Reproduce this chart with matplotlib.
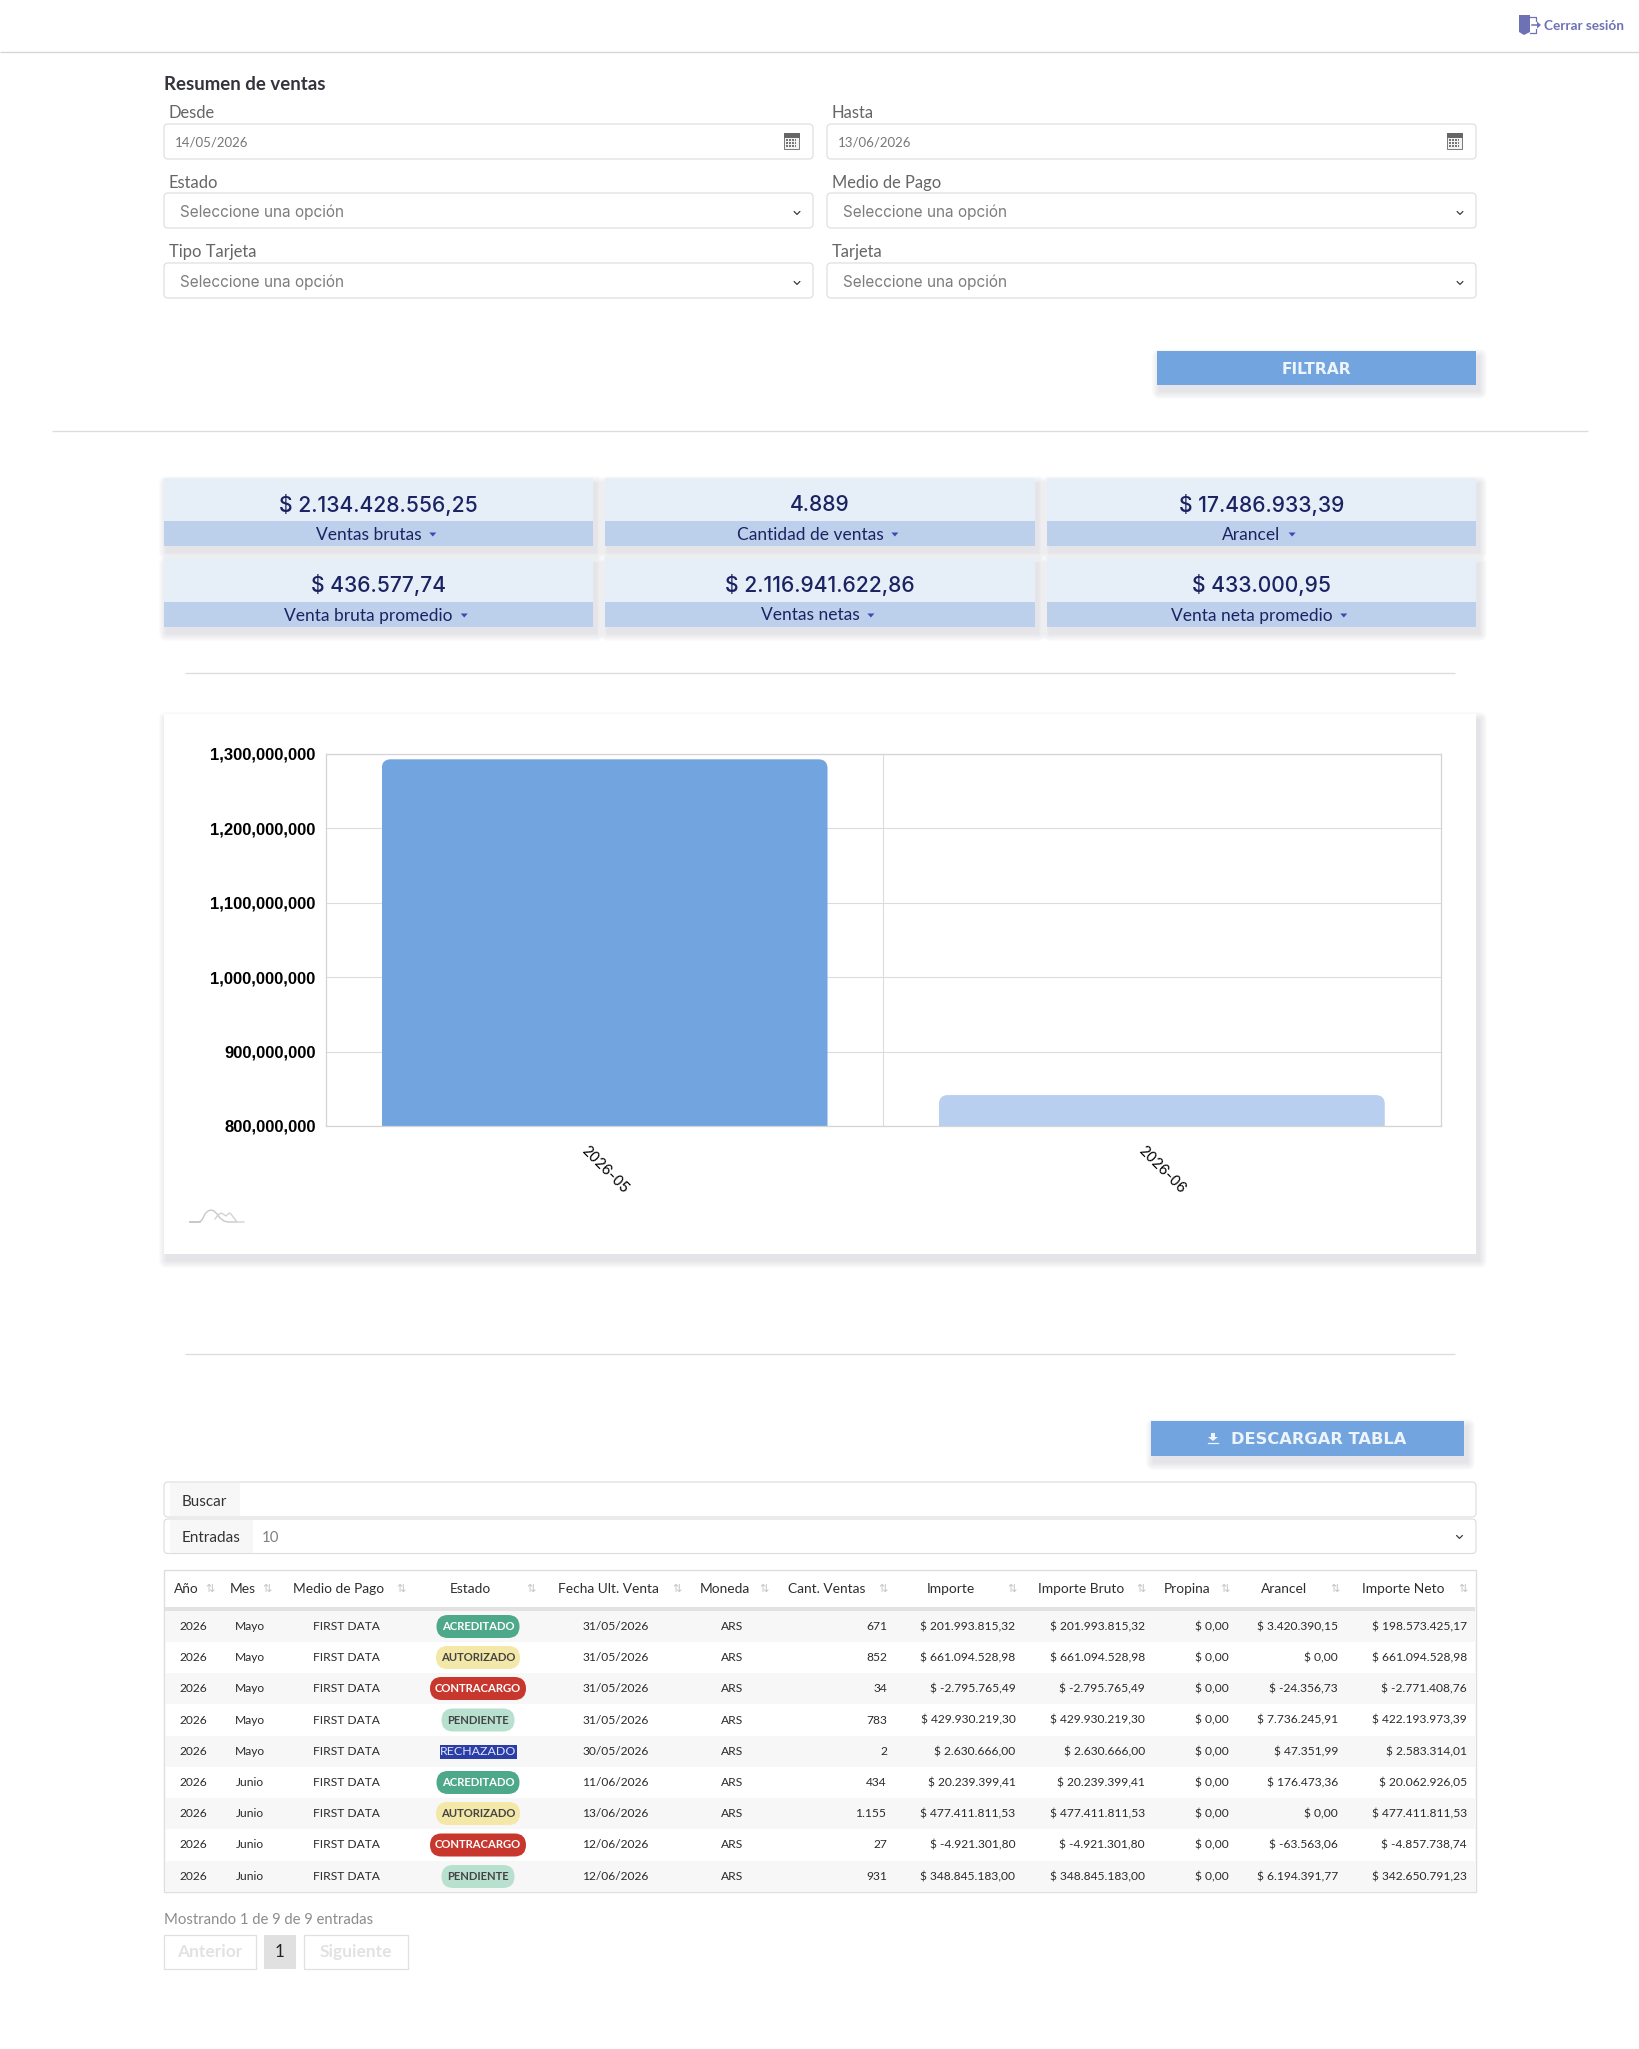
import matplotlib
matplotlib.use('Agg')
import matplotlib.pyplot as plt
from matplotlib.patches import FancyBboxPatch, Rectangle, Polygon

# chart values
months = ['2026-05', '2026-06']
month_totals = [1292853000, 841574000]
y_ticks = [800000000, 900000000, 1000000000, 1100000000, 1200000000, 1300000000]

# summary cards
card_values = ['$ 2.134.428.556,25', '4.889', '$ 17.486.933,39',
               '$ 436.577,74', '$ 2.116.941.622,86', '$ 433.000,95']
card_labels = ['Ventas brutas', 'Cantidad de ventas', 'Arancel',
               'Venta bruta promedio', 'Ventas netas', 'Venta neta promedio']

# table columns
headers = ['Año', 'Mes', 'Medio de Pago', 'Estado', 'Fecha Ult. Venta', 'Moneda',
           'Cant. Ventas', 'Importe', 'Importe Bruto', 'Propina', 'Arancel', 'Importe Neto']
anio = ['2026'] * 9
mes = ['Mayo'] * 5 + ['Junio'] * 4
medio = ['FIRST DATA'] * 9
estado = ['ACREDITADO', 'AUTORIZADO', 'CONTRACARGO', 'PENDIENTE', 'RECHAZADO',
          'ACREDITADO', 'AUTORIZADO', 'CONTRACARGO', 'PENDIENTE']
fecha = ['31/05/2026', '31/05/2026', '31/05/2026', '31/05/2026', '30/05/2026',
         '11/06/2026', '13/06/2026', '12/06/2026', '12/06/2026']
moneda = ['ARS'] * 9
cant = ['671', '852', '34', '783', '2', '434', '1.155', '27', '931']
importe = ['$ 201.993.815,32', '$ 661.094.528,98', '$ -2.795.765,49', '$ 429.930.219,30',
           '$ 2.630.666,00', '$ 20.239.399,41', '$ 477.411.811,53', '$ -4.921.301,80',
           '$ 348.845.183,00']
propina = ['$ 0,00'] * 9
arancel = ['$ 3.420.390,15', '$ 0,00', '$ -24.356,73', '$ 7.736.245,91', '$ 47.351,99',
           '$ 176.473,36', '$ 0,00', '$ -63.563,06', '$ 6.194.391,77']
neto = ['$ 198.573.425,17', '$ 661.094.528,98', '$ -2.771.408,76', '$ 422.193.973,39',
        '$ 2.583.314,01', '$ 20.062.926,05', '$ 477.411.811,53', '$ -4.857.738,74',
        '$ 342.650.791,23']

W, H = 1640, 2049
BODY = 'Lato'
HEAD = 'Inter'
BLUE = '#72a5df'
NAVY = '#1b2362'
LINE = '#dcdcde'

fig = plt.figure(figsize=(W / 100, H / 100), dpi=100, facecolor='white')
ui = fig.add_axes([0, 0, 1, 1], zorder=0)
ui.set_xlim(0, W)
ui.set_ylim(H, 0)
ui.axis('off')


def txt(x, y, s, px, color='#333333', ha='left', font=BODY, weight='normal', **kw):
    return ui.text(x, y, s, fontsize=px * 0.72, color=color, ha=ha, va='center',
                   family=font, fontweight=weight, **kw)


def hline(x0, x1, y, color=LINE, lw=1.3):
    ui.plot([x0, x1], [y, y], color=color, lw=lw * 0.72, solid_capstyle='butt')


def shadow(x, y, w, h, spread=8, dy=6, dx=3, color='#3a3a70'):
    for i in range(spread, 0, -1):
        ui.add_patch(FancyBboxPatch((x - i + dx, y - i + dy), w + 2 * i, h + 2 * i,
                                    boxstyle=f'round,pad=0,rounding_size={i}',
                                    fc=color, ec='none', alpha=0.015, zorder=1))


def box(x, y, w, h, r=4, fc='white', ec=LINE, lw=1.1, z=2):
    ui.add_patch(FancyBboxPatch((x, y), w, h, boxstyle=f'round,pad=0,rounding_size={r}',
                                fc=fc, ec=ec, lw=lw * 0.72, zorder=z))


def chevron(x, y, color='#333333'):
    ui.plot([x - 2.8, x, x + 2.8], [y - 1.4, y + 1.4, y - 1.4], color=color, lw=0.85, zorder=4)


def calendar(x, y):
    ui.add_patch(Rectangle((x, y), 15, 16, fc='#f2f2f2', ec='#777777', lw=0.7, zorder=4))
    ui.add_patch(Rectangle((x, y), 15, 4, fc='#666666', ec='#666666', lw=0.7, zorder=4))
    for i in range(4):
        for j in range(3):
            ui.add_patch(Rectangle((x + 2.2 + i * 2.8, y + 6 + j * 3), 1.8, 1.8,
                                   fc='#777777', ec='none', zorder=4))


def sort_icon(x, y):
    ui.text(x, y, '⇅', fontsize=8, color='#c4c4c4', ha='center', va='center',
            family='DejaVu Sans', zorder=4)


# header bar
hline(0, W, 52, '#d4d4d9', 1.3)
ui.add_patch(Polygon([(1519, 15), (1530, 15), (1530, 32), (1524, 35), (1519, 32)],
                     fc='#6d72b5', ec='none'))
ui.plot([1530, 1536, 1536], [17, 17, 21], color='#6d72b5', lw=0.9)
ui.plot([1536, 1536, 1530], [29, 33, 33], color='#6d72b5', lw=0.9)
ui.plot([1532, 1537], [25, 25], color='#6d72b5', lw=1.1)
ui.add_patch(Polygon([(1537, 21.5), (1537, 28.5), (1541, 25)], fc='#6d72b5', ec='none'))
txt(1544, 26.5, 'Cerrar sesión', 13.6, '#6d72b5', weight='bold')

# filter form
txt(164, 84, 'Resumen de ventas', 18.6, '#33343c', weight='bold')
form_rows = [(112, 124, 'Desde', '14/05/2026', 'Hasta', '13/06/2026'),
             (182, 193, 'Estado', None, 'Medio de Pago', None),
             (251, 263, 'Tipo Tarjeta', None, 'Tarjeta', None)]
for ly, by, lab1, val1, lab2, val2 in form_rows:
    for x0, lab, val in [(164, lab1, val1), (827, lab2, val2)]:
        txt(x0 + 5, ly + 1, lab, 16.5, '#666666')
        box(x0, by, 649, 35)
        if val:
            txt(x0 + 11, by + 18.5, val, 13.3, '#777777')
            calendar(x0 + 620, by + 9)
        else:
            txt(x0 + 16, by + 19, 'Seleccione una opción', 15.4, '#7d7d7d', font=HEAD)
            chevron(x0 + 633, by + 20)

shadow(1157, 351, 319, 34)
ui.add_patch(Rectangle((1157, 351), 319, 34, fc=BLUE, ec='none', zorder=3))
txt(1316, 369, 'FILTRAR', 15.5, '#eef4fc', ha='center', font='DejaVu Sans', weight='bold', zorder=4)
hline(52, 1588, 431)

# summary cards
card_x = [164, 605, 1047]
card_w = [429, 430, 429]
card_y = [(478, 521, 546), (558, 602, 627)]
renderer = fig.canvas.get_renderer()
for i in range(6):
    cx = card_x[i % 3]
    cw = card_w[i % 3]
    y0, ym, y1 = card_y[i // 3]
    shadow(cx, y0, cw, y1 - y0)
    ui.add_patch(Rectangle((cx, y0), cw, ym - y0, fc='#e6eef8', ec='none', zorder=3))
    ui.add_patch(Rectangle((cx, ym), cw, y1 - ym, fc='#bcd0ec', ec='none', zorder=3))
    txt(cx + cw / 2, y0 + 27, card_values[i], 21.1, NAVY, ha='center', font=HEAD, weight='medium', zorder=4)
    lab = txt(cx + cw / 2 - 10, (ym + y1) / 2 + 1, card_labels[i], 17.4, NAVY, ha='center', zorder=4)
    right = ui.transData.inverted().transform(lab.get_window_extent(renderer).corners()[-1])[0]
    ui.add_patch(Polygon([(right + 8, (ym + y1) / 2 - 1), (right + 15, (ym + y1) / 2 - 1),
                          (right + 11.5, (ym + y1) / 2 + 3)], fc='#3b49b5', ec='none', zorder=4))

hline(185, 1455, 673)

# chart card
shadow(164, 714, 1312, 540)
ui.add_patch(Rectangle((164, 714), 1312, 540, fc='white', ec='none', zorder=3))

ax = fig.add_axes([326 / W, 1 - 1126 / H, (1440.5 - 326) / W, (1126 - 754) / H],
                  zorder=2, facecolor='none')
bars = ax.bar(range(len(months)), month_totals, width=0.8, color=[BLUE, '#b8cfef'], zorder=2)
ax.set_xlim(-0.5, 1.5)
ax.set_ylim(800000000, 1300000000)
ax.set_yticks(y_ticks)
ax.set_yticklabels([f'{v:,}' for v in y_ticks], fontsize=12, fontweight='bold',
                   family='Liberation Sans', color='#000000')
ax.set_xticks(range(len(months)))
ax.set_xticklabels(months, rotation=-45, ha='center', fontsize=10.5, family='Inter', color='#000000')
ax.set_xticks([0.5], minor=True)
ax.tick_params(axis='y', length=0, pad=7.5)
ax.tick_params(axis='x', which='major', length=0, pad=13)
ax.tick_params(axis='x', which='minor', length=0)
ax.grid(axis='y', color='#dcdcdc', lw=0.8, zorder=0)
ax.grid(axis='x', which='minor', color='#dcdcdc', lw=0.8, zorder=0)
ax.grid(axis='x', which='major', visible=False)
ax.set_axisbelow(True)
for sp in ax.spines.values():
    sp.set_color('#d4d4d4')
    sp.set_linewidth(0.9)

# rounded top corners on the bars
for b in bars:
    p0 = ui.transData.inverted().transform(ax.transData.transform((b.get_x(), b.get_height())))
    p1 = ui.transData.inverted().transform(ax.transData.transform((b.get_x() + b.get_width(), 800000000)))
    clip = FancyBboxPatch((p0[0], p0[1]), p1[0] - p0[0], p1[1] - p0[1] + 30,
                          boxstyle='round,pad=0,rounding_size=9', transform=ui.transData)
    b.set_clip_path(clip)

# chart logo
ui.plot([190, 199, 202, 205, 208, 211, 214, 217, 220, 224, 228, 236],
        [1222, 1222, 1220, 1214, 1211, 1210, 1211, 1214, 1218, 1221, 1222, 1222],
        color='#c8c8c8', lw=1.0, zorder=4)
ui.plot([215, 218, 221, 223, 226, 229, 231, 234, 237, 244],
        [1219, 1215, 1213, 1214, 1216, 1213, 1214, 1218, 1222, 1222],
        color='#cfcfcf', lw=0.9, zorder=4)
ui.plot([190, 200], [1222, 1222], color='#c8c8c8', lw=1.3, zorder=4)

hline(185, 1455, 1354)

# download button
shadow(1151, 1421, 313, 35)
ui.add_patch(Rectangle((1151, 1421), 313, 35, fc=BLUE, ec='none', zorder=3))
txt(1318.5, 1439.5, 'DESCARGAR TABLA', 16.3, '#eef4fc', ha='center', font='DejaVu Sans', weight='bold', zorder=4)
ui.add_patch(Polygon([(1211, 1433), (1215, 1433), (1215, 1437), (1218, 1437), (1213, 1441), (1208, 1437),
                      (1211, 1437)], fc='#eef4fc', ec='none', zorder=4))
ui.plot([1208, 1218], [1442.5, 1442.5], color='#eef4fc', lw=0.9, zorder=4)

# search and page size
box(164, 1482, 1312, 35)
ui.add_patch(Rectangle((170, 1483), 70, 33, fc='#f7f7f7', ec='none', zorder=3))
txt(182, 1501.5, 'Buscar', 15.2, '#333333', zorder=4)
box(164, 1519, 1312, 34.5)
ui.add_patch(Rectangle((170, 1520), 83, 33, fc='#f7f7f7', ec='none', zorder=3))
txt(182, 1537.5, 'Entradas', 15.2, '#333333', zorder=4)
txt(262, 1537.5, '10', 15, '#808080', zorder=4)
chevron(1459.5, 1537)

# table
ui.add_patch(Rectangle((164, 1570), 1312, 322, fc='white', ec='#dedede', lw=1, zorder=2))
row_edges = [1611, 1642, 1673, 1704, 1736, 1767, 1798, 1829, 1861, 1892]
ui.add_patch(Rectangle((165, 1607), 1310, 4, fc='#e2e2e2', ec='none', zorder=3))
for i in range(9):
    if i % 2 == 0:
        ui.add_patch(Rectangle((165, row_edges[i]), 1310, row_edges[i + 1] - row_edges[i],
                               fc='#f7f7f7', ec='none', zorder=3))

header_x = [174, 230, 293, 450, 558.5, 700, 788, 927, 1038, 1164, 1261, 1362]
icon_x = [210, 267, 401, 531, 677, 764, 883, 1012, 1141, 1225.5, 1335, 1463]
for h, hx, ix in zip(headers, header_x, icon_x):
    txt(hx, 1589, h, 13.7, '#2e2e2e', zorder=4)
    sort_icon(ix, 1589)

pill_style = {'ACREDITADO': ('#4ea88a', 'white', 83),
              'AUTORIZADO': ('#f3e8a8', '#444444', 84),
              'CONTRACARGO': ('#c8372d', 'white', 96),
              'PENDIENTE': ('#b8e0cf', '#444444', 73)}
columns = [(anio, 193, 'center'), (mes, 250, 'center'), (medio, 346, 'center'), (fecha, 616, 'center'),
           (moneda, 732, 'center'), (cant, 887, 'right'), (importe, 1015.5, 'right'), (importe, 1145, 'right'),
           (propina, 1229, 'right'), (arancel, 1338, 'right'), (neto, 1467, 'right')]
for i in range(9):
    yc = (row_edges[i] + row_edges[i + 1]) / 2
    for col, x, ha in columns:
        txt(x, yc, col[i], 12, '#2a2a2a', ha=ha, zorder=4)
    e = estado[i]
    if e in pill_style:
        fc, tc, w = pill_style[e]
        ui.add_patch(FancyBboxPatch((478 - w / 2, yc - 11.5), w, 23, boxstyle='round,pad=0,rounding_size=11.5',
                                    fc=fc, ec='none', zorder=4))
        txt(478, yc, e, 11.3, tc, ha='center', weight='bold', zorder=5)
    else:
        ui.add_patch(Rectangle((440, yc - 7), 77, 14, fc='#2a3ea5', ec='none', zorder=4))
        txt(478, yc, e, 12.4, '#dfe4fa', ha='center', zorder=5)

# footer
txt(164, 1920, 'Mostrando 1 de 9 de 9 entradas', 14.9, '#8c8c8c')
ui.add_patch(Rectangle((164, 1935), 92, 34, fc='white', ec='#e0e0e0', lw=0.9))
txt(210, 1952, 'Anterior', 17.4, '#e2e2e2', ha='center', weight='bold')
ui.add_patch(Rectangle((264, 1935), 32, 34, fc='#e0e0e0', ec='none'))
txt(280, 1952, '1', 17, '#222222', ha='center')
ui.add_patch(Rectangle((304, 1935), 104, 34, fc='white', ec='#e0e0e0', lw=0.9))
txt(356, 1952, 'Siguiente', 17.4, '#e2e2e2', ha='center', weight='bold')

fig.savefig('out.png', dpi=100, facecolor='white')
